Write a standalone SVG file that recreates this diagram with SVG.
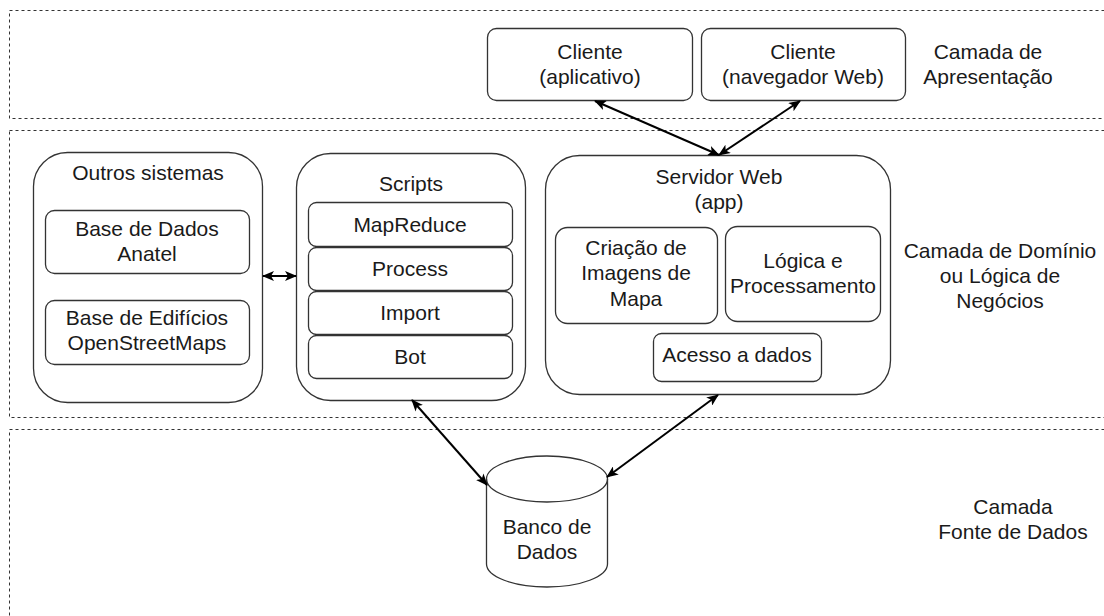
<svg xmlns="http://www.w3.org/2000/svg" width="1104" height="616" viewBox="0 0 1104 616">
<defs>
<style>
.layer{fill:none;stroke:#333;stroke-width:1;stroke-dasharray:3 3}
.box{fill:#fff;stroke:#333;stroke-width:1.3}
.t{font-family:"Liberation Sans",Arial,sans-serif;font-size:21px;fill:#1a1a1a;text-anchor:middle}
.c{fill:none;stroke:#000;stroke-width:2}
</style>
<marker id="ah" viewBox="0 0 12 10" refX="11" refY="5" markerWidth="6" markerHeight="5" orient="auto-start-reverse" markerUnits="strokeWidth">
<path d="M0,0 L12,5 L0,10 L3,5 z" fill="#000"/>
</marker>
</defs>
<rect width="1104" height="616" fill="#fff"/>
<g id="layers">
<rect class="layer" x="9.5" y="10.5" width="1200" height="108"/>
<rect class="layer" x="9.5" y="130.5" width="1200" height="287"/>
<rect class="layer" x="9.5" y="429.5" width="1200" height="300"/>
</g>
<g id="labels">
<text class="t" x="988" y="59">Camada de</text>
<text class="t" x="988" y="84">Apresentação</text>
<text class="t" x="1000" y="258">Camada de Domínio</text>
<text class="t" x="1000" y="283">ou Lógica de</text>
<text class="t" x="1000" y="308">Negócios</text>
<text class="t" x="1013" y="514">Camada</text>
<text class="t" x="1013" y="539">Fonte de Dados</text>
</g>
<g id="cliente-app">
<rect class="box" x="487.5" y="28.5" width="205" height="72" rx="9"/>
<text class="t" x="590" y="59">Cliente</text>
<text class="t" x="590" y="84">(aplicativo)</text>
</g>
<g id="cliente-web">
<rect class="box" x="701.5" y="28.5" width="204" height="72" rx="9"/>
<text class="t" x="803" y="59">Cliente</text>
<text class="t" x="803" y="84">(navegador Web)</text>
</g>
<g id="outros-sistemas">
<rect class="box" x="33.5" y="152.5" width="229" height="250" rx="34"/>
<text class="t" x="148" y="180">Outros sistemas</text>
</g>
<g id="base-anatel">
<rect class="box" x="45.5" y="210.5" width="204" height="63" rx="9"/>
<text class="t" x="147" y="236">Base de Dados</text>
<text class="t" x="147" y="261">Anatel</text>
</g>
<g id="base-osm">
<rect class="box" x="45.5" y="300.5" width="204" height="64" rx="9"/>
<text class="t" x="147" y="325">Base de Edifícios</text>
<text class="t" x="147" y="350">OpenStreetMaps</text>
</g>
<g id="scripts">
<rect class="box" x="296.5" y="153.5" width="229" height="247" rx="34"/>
<text class="t" x="411" y="191">Scripts</text>
</g>
<g id="mapreduce">
<rect class="box" x="308.5" y="202.5" width="204" height="44" rx="8"/>
<text class="t" x="410" y="232">MapReduce</text>
</g>
<g id="process">
<rect class="box" x="308.5" y="247.5" width="204" height="43" rx="8"/>
<text class="t" x="410" y="276">Process</text>
</g>
<g id="import">
<rect class="box" x="308.5" y="291.5" width="204" height="43" rx="8"/>
<text class="t" x="410" y="320">Import</text>
</g>
<g id="bot">
<rect class="box" x="308.5" y="335.5" width="204" height="43" rx="8"/>
<text class="t" x="410" y="364">Bot</text>
</g>
<g id="servidor-web">
<rect class="box" x="545.5" y="155.5" width="345" height="239" rx="34"/>
<text class="t" x="719" y="184">Servidor Web</text>
<text class="t" x="719" y="209">(app)</text>
</g>
<g id="criacao-imagens">
<rect class="box" x="555.5" y="227.5" width="162" height="96" rx="12"/>
<text class="t" x="636" y="255">Criação de</text>
<text class="t" x="636" y="280">Imagens de</text>
<text class="t" x="636" y="306">Mapa</text>
</g>
<g id="logica">
<rect class="box" x="725.5" y="226.5" width="155" height="95" rx="12"/>
<text class="t" x="803" y="268">Lógica e</text>
<text class="t" x="803" y="293">Processamento</text>
</g>
<g id="acesso-dados">
<rect class="box" x="653.5" y="333.5" width="168" height="48" rx="8"/>
<text class="t" x="737" y="362">Acesso a dados</text>
</g>
<g id="banco-dados">
<path class="box" d="M486.5,479 A60.5,23 0 0 1 607.5,479 L607.5,564 A60.5,23 0 0 1 486.5,564 Z"/>
<path d="M486.5,479 A60.5,23 0 0 0 607.5,479" fill="none" stroke="#333" stroke-width="1.3"/>
<text class="t" x="547" y="534">Banco de</text>
<text class="t" x="547" y="559">Dados</text>
</g>
<g id="connectors">
<line class="c" x1="595" y1="101" x2="719" y2="155" marker-start="url(#ah)" marker-end="url(#ah)"/>
<line class="c" x1="800" y1="101" x2="719" y2="155" marker-start="url(#ah)" marker-end="url(#ah)"/>
<line class="c" x1="263" y1="276" x2="296" y2="276" marker-start="url(#ah)" marker-end="url(#ah)"/>
<line class="c" x1="412" y1="400" x2="487" y2="485" marker-start="url(#ah)" marker-end="url(#ah)"/>
<line class="c" x1="718" y1="395" x2="607" y2="477" marker-start="url(#ah)" marker-end="url(#ah)"/>
</g>
</svg>
